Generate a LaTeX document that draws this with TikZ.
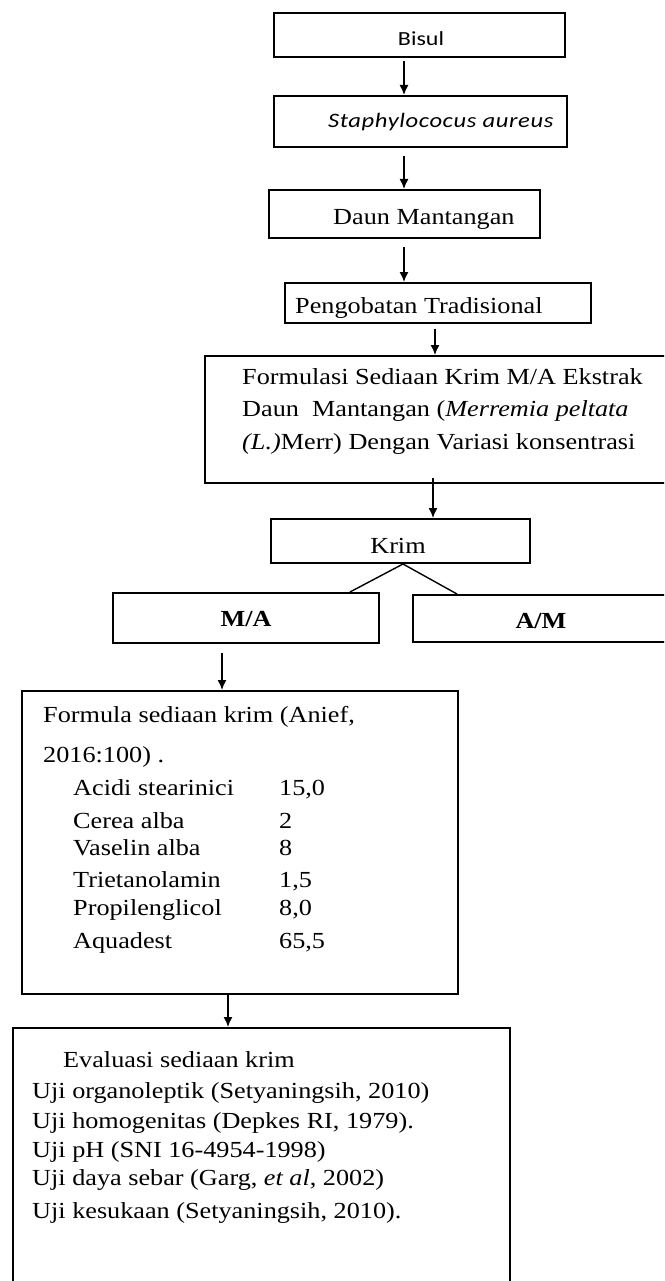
\documentclass[tikz,border=0pt]{standalone}
\usepackage{fontspec}
\setmainfont{Liberation Serif}[FakeStretch=1.14]
\newfontfamily\calibri{Carlito}[FakeStretch=1.2]
\usetikzlibrary{arrows.meta}
\begin{document}
\begin{tikzpicture}[x=1pt,y=-1pt,
  box/.style={draw,line width=2pt,inner sep=0pt},
  txt/.style={inner sep=0pt,anchor=base west,font=\fontsize{23}{28}\selectfont},
  ctxt/.style={inner sep=0pt,anchor=base,font=\fontsize{23}{28}\selectfont},
  stxt/.style={inner sep=0pt,anchor=base,font=\calibri\fontsize{20}{24}\selectfont},
  arr/.style={line width=1.4pt,-{Latex[length=10pt,width=9pt]}},
  link/.style={line width=1.4pt}]
\useasboundingbox (0,0) rectangle (664,1281);
\fill[white] (0,0) rectangle (664,1281);
\clip (0,0) rectangle (664,1281);

% boxes
\node[box,minimum width=291pt,minimum height=44pt] (bisul) at (419.5,35) {};
\node[box,minimum width=293pt,minimum height=51pt] (staph) at (420.5,121.5) {};
\node[box,minimum width=271pt,minimum height=48pt] (daun) at (404.5,214) {};
\node[box,minimum width=306pt,minimum height=40pt] (pengob) at (438,303) {};
\node[box,minimum width=485pt,minimum height=127pt] (formulasi) at (447.5,419.5) {};
\node[box,minimum width=259pt,minimum height=44pt] (krim) at (400.5,541) {};
\node[box,minimum width=266pt,minimum height=50pt] (ma) at (246,618) {};
\node[box,minimum width=287pt,minimum height=47pt] (am) at (556.5,618.5) {};
\node[box,minimum width=436pt,minimum height=303pt] (formula) at (240,842.5) {};
\node[box,minimum width=497pt,minimum height=272pt] (evaluasi) at (261.5,1164) {};

% texts
\node[stxt] (tbisul) at (421,46) {Bisul};
\node[stxt,anchor=base west,font=\calibri\fontsize{20.5}{24}\selectfont\addfontfeature{LetterSpace=3}] (tstaph) at (328,128) {\itshape Staphylococus aureus};
\node[txt] (tdaun) at (333,225) {Daun Mantangan};
\node[txt] (tpeng) at (295,313) {Pengobatan Tradisional};
\node[txt] (tf1) at (242,384) {Formulasi Sediaan Krim M/A Ekstrak};
\node[txt] (tf2) at (242,416) {Daun\ \ Mantangan (\textit{Merremia peltata}};
\node[txt] (tf3) at (242,449) {\textit{(L.)}Merr) Dengan Variasi konsentrasi};
\node[ctxt] (tkrim) at (398,553) {Krim};
\node[ctxt] (tma) at (246,626) {\bfseries M/A};
\node[ctxt] (tam) at (541,628) {\bfseries A/M};

\node[txt] (fo1) at (43,722) {Formula sediaan krim (Anief,};
\node[txt] (fo2) at (43,762) {2016:100) .};
\node[txt] (i1) at (73,795) {Acidi stearinici};
\node[txt] (v1) at (279,795) {15,0};
\node[txt] (i2) at (73,828) {Cerea alba};
\node[txt] (v2) at (279,828) {2};
\node[txt] (i3) at (73,855) {Vaselin alba};
\node[txt] (v3) at (279,855) {8};
\node[txt] (i4) at (73,887) {Trietanolamin};
\node[txt] (v4) at (279,887) {1,5};
\node[txt] (i5) at (73,915) {Propilenglicol};
\node[txt] (v5) at (279,915) {8,0};
\node[txt] (i6) at (73,948) {Aquadest};
\node[txt] (v6) at (279,948) {65,5};

\node[txt] (e0) at (63,1067) {Evaluasi sediaan krim};
\node[txt] (e1) at (32,1098) {Uji organoleptik (Setyaningsih, 2010)};
\node[txt] (e2) at (32,1128) {Uji homogenitas (Depkes RI, 1979).};
\node[txt] (e3) at (32,1157) {Uji pH (SNI 16-4954-1998)};
\node[txt] (e4) at (32,1185) {Uji daya sebar (Garg, \textit{et al}, 2002)};
\node[txt] (e5) at (32,1218) {Uji kesukaan (Setyaningsih, 2010).};

% connectors
\draw[arr,shorten <=3pt] (bisul.south -| 404,0) -- (staph.north -| 404,0);
\draw[arr,shorten <=8pt] (staph.south -| 404,0) -- (daun.north -| 404,0);
\draw[arr,shorten <=8pt] (daun.south -| 404,0) -- (pengob.north -| 404,0);
\draw[arr,shorten <=5pt] (pengob.south -| 435,0) -- (formulasi.north -| 435,0);
\draw[arr,shorten <=-6pt] (formulasi.south -| 433,0) -- (krim.north -| 433,0);
\draw[link] (krim.south -| 403,0) -- (ma.north -| 350,0);
\draw[link] (krim.south -| 403,0) -- (am.north -| 457,0);
\draw[arr,shorten <=9pt] (ma.south -| 222,0) -- (formula.north -| 222,0);
\draw[arr] (formula.south -| 228,0) -- (evaluasi.north -| 228,0);
\end{tikzpicture}
\end{document}
